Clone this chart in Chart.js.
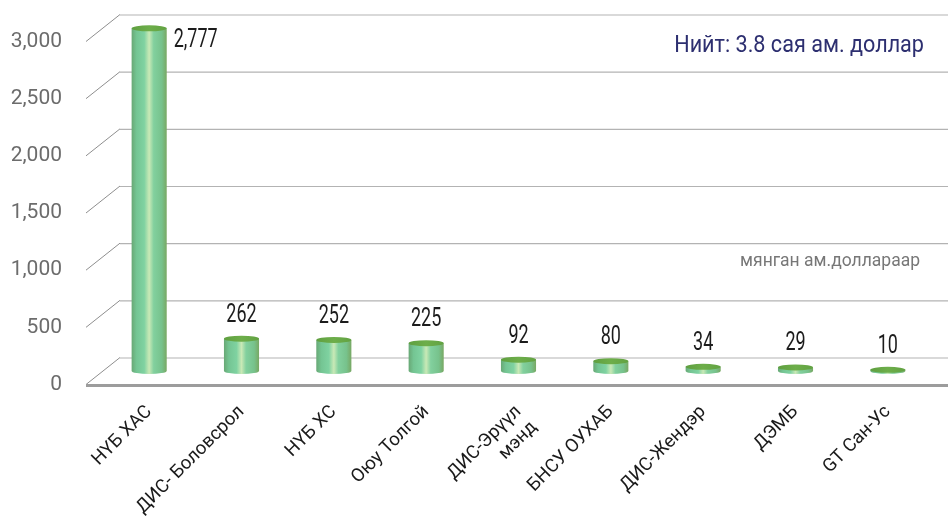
<!DOCTYPE html>
<html>
<head>
<meta charset="utf-8">
<script src="https://cdn.jsdelivr.net/npm/chart.js@4.4.1/dist/chart.umd.min.js"></script>
<style>
  html, body { margin: 0; padding: 0; background: #fff; }
  #wrap { width: 948px; height: 529px; position: relative; }
</style>
</head>
<body>
<div id="wrap"><canvas id="chart"></canvas></div>
<script>
// Funding by partner, thousand USD
const categories = [
  'НҮБ ХАС', 'ДИС- Боловсрол', 'НҮБ ХС', 'Оюу Толгой',
  ['ДИС-Эрүүл', 'мэнд'], 'БНСУ ОУХАБ', 'ДИС-Жендэр', 'ДЭМБ', 'GT Сан-Ус'
];
const amounts = [2777, 262, 252, 225, 92, 80, 34, 29, 10];
const axisTicks = [0, 500, 1000, 1500, 2000, 2500, 3000];
const totalLabel = 'Нийт: 3.8 сая ам. доллар';
const unitLabel = 'мянган ам.доллараар';

// half of the floor depth, used to fake the 3D box
const DEPTH_X = 17;
const DEPTH_Y = 13.5;

const fmt = (v) => v.toLocaleString('en-US');

function drawCylinder(ctx, x, top, base, width) {
  const rx = width / 2;
  const ry = 3;
  const left = x - rx, right = x + rx;

  const body = ctx.createLinearGradient(left, 0, right, 0);
  body.addColorStop(0, '#68a875');
  body.addColorStop(0.14, '#74c593');
  body.addColorStop(0.36, '#7fd2a1');
  body.addColorStop(0.5, '#c9e9b6');
  body.addColorStop(0.63, '#82d09e');
  body.addColorStop(0.86, '#77c28c');
  body.addColorStop(1, '#78a863');

  ctx.beginPath();
  ctx.moveTo(left, top);
  ctx.lineTo(left, base);
  ctx.ellipse(x, base, rx, ry, 0, Math.PI, 0, true);
  ctx.lineTo(right, top);
  ctx.closePath();
  ctx.fillStyle = body;
  ctx.fill();

  const cap = ctx.createLinearGradient(left, 0, right, 0);
  cap.addColorStop(0, '#5f9f40');
  cap.addColorStop(0.5, '#6dae4a');
  cap.addColorStop(1, '#62a242');
  ctx.beginPath();
  ctx.ellipse(x, top, rx, ry, 0, 0, Math.PI * 2);
  ctx.fillStyle = cap;
  ctx.fill();
}

function condensedText(ctx, text, x, y, font, color, align, squeeze) {
  ctx.save();
  ctx.font = font;
  ctx.fillStyle = color;
  ctx.textAlign = align;
  ctx.textBaseline = 'alphabetic';
  ctx.translate(x, y);
  ctx.scale(squeeze, 1);
  ctx.fillText(text, 0, 0);
  ctx.restore();
}

const box3d = {
  id: 'box3d',
  beforeDatasetsDraw(chart) {
    const { ctx, chartArea, scales } = chart;
    const y = scales.y;
    const xFront = chartArea.left - DEPTH_X;
    const xBack = chartArea.left + DEPTH_X;
    const xEnd = chart.width;
    ctx.save();
    y.ticks.forEach((t) => {
      const py = y.getPixelForValue(t.value);
      ctx.beginPath();
      ctx.strokeStyle = '#8e8e8e';
      ctx.lineWidth = 1;
      ctx.moveTo(xFront, py + DEPTH_Y);
      ctx.lineTo(xBack, py - DEPTH_Y);
      ctx.stroke();

      ctx.beginPath();
      ctx.strokeStyle = '#b3b3b3';
      ctx.lineWidth = 1.2;
      ctx.moveTo(xBack, py - DEPTH_Y + 0.5);
      ctx.lineTo(xEnd, py - DEPTH_Y + 0.5);
      ctx.stroke();
    });
    // front edge of the floor
    const pz = y.getPixelForValue(0) + DEPTH_Y;
    ctx.beginPath();
    ctx.strokeStyle = '#9c9c9c';
    ctx.lineWidth = 3;
    ctx.moveTo(xFront, pz + 1);
    ctx.lineTo(xEnd, pz + 1);
    ctx.stroke();
    ctx.restore();
  },
  afterDatasetsDraw(chart) {
    const { ctx, chartArea } = chart;
    const meta = chart.getDatasetMeta(0);
    ctx.save();
    meta.data.forEach((bar, i) => {
      const { x, y, base, width } = bar.getProps(['x', 'y', 'base', 'width'], true);
      drawCylinder(ctx, x, y, base, width);

      const text = fmt(amounts[i]);
      const font = '25px Roboto';
      if (y - 40 < chartArea.top) {
        condensedText(ctx, text, x + width / 2 + 7, y + 19, font, '#1c1c1c', 'left', 0.72);
      } else {
        condensedText(ctx, text, x, y - 17, font, '#1c1c1c', 'center', 0.72);
      }
    });
    ctx.restore();
  },
  afterDraw(chart) {
    const { ctx } = chart;
    condensedText(ctx, totalLabel, 924, 52, '24px Roboto', '#2d2f70', 'right', 0.9);
    ctx.save();
    ctx.font = '17.5px Roboto';
    ctx.fillStyle = '#777777';
    ctx.textAlign = 'right';
    ctx.textBaseline = 'alphabetic';
    ctx.fillText(unitLabel, 920, 266);
    ctx.restore();
  }
};

new Chart(document.getElementById('chart'), {
  type: 'bar',
  data: {
    labels: categories,
    datasets: [{
      data: amounts,
      yAxisID: 'yBar',
      backgroundColor: 'rgba(0,0,0,0)',
      borderWidth: 0,
      barPercentage: 0.38,
      categoryPercentage: 1
    }]
  },
  options: {
    responsive: true,
    maintainAspectRatio: false,
    animation: false,
    layout: { padding: { top: 28, right: 14, left: 0, bottom: 0 } },
    plugins: {
      legend: { display: false },
      tooltip: { enabled: false }
    },
    scales: {
      x: {
        grid: { display: false },
        border: { display: false },
        ticks: {
          minRotation: 45,
          maxRotation: 45,
          autoSkip: false,
          padding: 22,
          color: '#1a1a1a',
          font: { family: 'Roboto', size: 18.5 }
        },
        afterFit(scale) {
          scale.height = 158;
          scale.paddingLeft = 0;
          scale.paddingRight = 0;
        }
      },
      y: {
        position: 'left',
        min: 0,
        max: 3000,
        grid: { display: false, drawTicks: false },
        border: { display: false },
        ticks: {
          padding: 41,
          labelOffset: DEPTH_Y,
          color: '#6c6c6c',
          font: { family: 'Roboto', size: 21 },
          callback: (v) => fmt(v)
        },
        afterBuildTicks(scale) {
          scale.ticks = axisTicks.map((v) => ({ value: v }));
        },
        afterFit(scale) {
          scale.width = 103;
          scale.paddingTop = 0;
          scale.paddingBottom = 0;
        }
      },
      yBar: {
        display: false,
        min: 0,
        max: 2780
      }
    }
  },
  plugins: [box3d]
});
</script>
</body>
</html>
